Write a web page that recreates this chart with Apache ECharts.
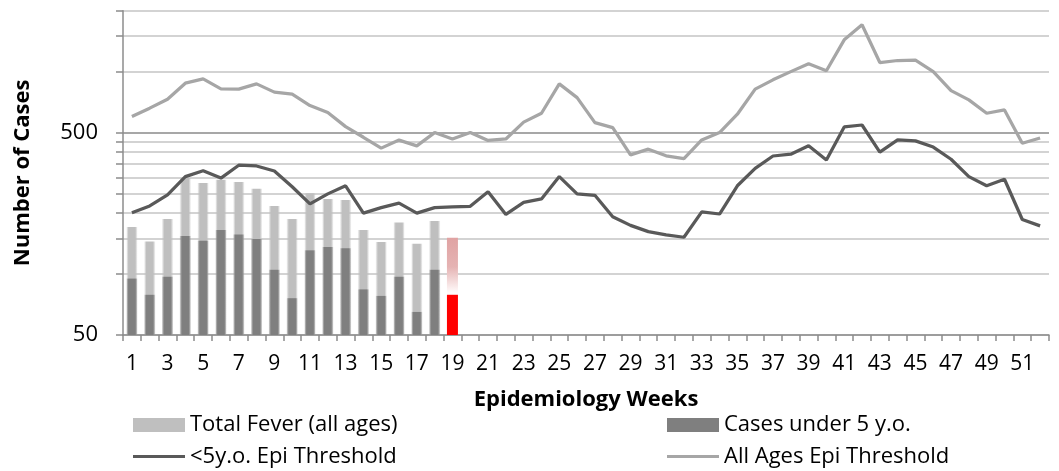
<!DOCTYPE html>
<html>
<head>
<meta charset="utf-8">
<style>
html,body{margin:0;padding:0;background:#fff;}
#chart{width:1059px;height:471px;}
</style>
<script src="https://cdn.jsdelivr.net/npm/echarts@6/dist/echarts.min.js"></script>
</head>
<body>
<div id="chart"></div>
<script>
const weeks = ['1','2','3','4','5','6','7','8','9','10','11','12','13','14','15','16','17','18','19','20','21','22','23','24','25','26','27','28','29','30','31','32','33','34','35','36','37','38','39','40','41','42','43','44','45','46','47','48','49','50','51','52'];
const totalFever = [171,145,187,298,282,292,285,264,217,187,251,235,232,165,144,180,141,183,151];
const under5 = [95,79,97,154,146,165,157,149,105,76,131,136,134,84,78,97,65,105,79];
const under5Threshold = [201,217,246,303,324,298,345,342,323,270,222,249,273,200,213,224,200,213,215,216,255,197,226,235,303,249,245,192,174,162,156,152,203,198,273,333,383,391,430,366,533,545,400,460,455,424,369,303,273,294,186,173];
const allAgesThreshold = [600,660,731,877,921,822,820,870,792,774,680,628,535,474,419,459,430,500,465,500,457,465,563,623,870,744,560,529,388,414,384,372,460,500,616,820,911,1000,1093,1010,1436,1704,1109,1135,1140,1001,806,725,623,647,443,470];
const yTicks = [50,100,150,200,250,300,350,400,450,500,1000,1500,2000];
const yLabels = [50,500];
const yMin = 50, yMax = 2000;
const currentWeekIndex = 18;

// log scale helper (axis base = 50)
const tr = v => (v == null ? null : Math.log10(v / yMin));
const inv = t => Math.round(yMin * Math.pow(10, t));

function hGrad(c, ca) {
  return new echarts.graphic.LinearGradient(0, 0, 1, 0, [
    {offset: 0, color: ca}, {offset: 0.2, color: c}, {offset: 0.8, color: c}, {offset: 1, color: ca}
  ]);
}
const lightCol = hGrad('#BFBFBF', 'rgba(191,191,191,0.15)');
const darkCol = hGrad('#7F7F7F', 'rgba(127,127,127,0.15)');
const pinkCol = new echarts.graphic.LinearGradient(0, 0, 0, 1, [
  {offset: 0, color: '#E0A3A3'}, {offset: 0.3, color: '#E5B3B3'}, {offset: 0.56, color: '#FFFAFA'}, {offset: 1, color: '#FFFFFF'}
]);

const totalData = totalFever.map((v, i) => i === currentWeekIndex ? {value: tr(v), itemStyle: {color: pinkCol}} : tr(v));
const under5Data = under5.map((v, i) => i === currentWeekIndex ? {value: tr(v), itemStyle: {color: '#FF0000'}} : tr(v));

const gridColors = yTicks.map(v => v === 500 ? '#8A8A8A' : '#C4C4C4');
const font = "'Open Sans', 'Liberation Sans', sans-serif";

const chart = echarts.init(document.getElementById('chart'), null, {renderer: 'canvas'});
const legendText = {fontFamily: font, fontSize: 22, lineHeight: 24, color: '#000'};
chart.setOption({
  animation: false,
  grid: {left: 123, right: 10, top: 10.7, bottom: 136, containLabel: false},
  legend: [
    {left: 133, top: 413, padding: 0, itemWidth: 52, itemHeight: 14, textStyle: legendText,
     data: [{name: 'Total Fever (all ages)', icon: 'rect', itemStyle: {color: '#BFBFBF'}}]},
    {left: 667, top: 413, padding: 0, itemWidth: 52, itemHeight: 14, textStyle: legendText,
     data: [{name: 'Cases under 5 y.o.', icon: 'rect', itemStyle: {color: '#7F7F7F'}}]},
    {left: 133, top: 444.5, padding: 0, itemWidth: 52, itemHeight: 3, textStyle: legendText,
     data: [{name: '<5y.o. Epi Threshold', icon: 'rect', itemStyle: {color: '#595959'}}]},
    {left: 667, top: 444.5, padding: 0, itemWidth: 52, itemHeight: 3, textStyle: legendText,
     data: [{name: 'All Ages Epi Threshold', icon: 'rect', itemStyle: {color: '#A6A6A6'}}]}
  ],
  xAxis: {
    type: 'category', data: weeks, boundaryGap: true,
    name: 'Epidemiology Weeks', nameLocation: 'middle', nameGap: 54,
    nameTextStyle: {fontFamily: font, fontSize: 22, fontWeight: 'bold', color: '#000'},
    axisLine: {lineStyle: {color: '#8C8C8C', width: 1.5}},
    axisTick: {show: true, interval: 0, length: 6, alignWithLabel: false, lineStyle: {color: '#8C8C8C', width: 1.5}},
    axisLabel: {interval: 1, margin: 19, fontFamily: font, fontSize: 21, color: '#000'},
    splitLine: {show: false}
  },
  yAxis: {
    type: 'value', min: tr(yMin), max: tr(yMax),
    name: 'Number of Cases', nameLocation: 'middle', nameRotate: 90, nameGap: 89,
    nameTextStyle: {fontFamily: font, fontSize: 22, fontWeight: 'bold', color: '#000'},
    axisLine: {show: true, lineStyle: {color: '#8C8C8C', width: 1.5}},
    axisTick: {show: true, inside: false, length: 7, customValues: yTicks.map(tr), lineStyle: {color: '#8C8C8C', width: 1.5}},
    axisLabel: {customValues: yLabels.map(tr), margin: 25, fontFamily: font, fontSize: 22, color: '#000',
      formatter: v => String(inv(v))},
    splitLine: {show: true, lineStyle: {color: gridColors, width: 1.5}}
  },
  series: [
    {name: 'Total Fever (all ages)', type: 'bar', data: totalData, barWidth: 11, barGap: '-100%',
     itemStyle: {color: lightCol}, z: 2},
    {name: 'Cases under 5 y.o.', type: 'bar', data: under5Data, barWidth: 11, barGap: '-100%',
     itemStyle: {color: darkCol}, z: 3},
    {name: '<5y.o. Epi Threshold', type: 'line', data: under5Threshold.map(tr), symbol: 'none',
     lineStyle: {color: '#595959', width: 3.25}, itemStyle: {color: '#595959'}, z: 4},
    {name: 'All Ages Epi Threshold', type: 'line', data: allAgesThreshold.map(tr), symbol: 'none',
     lineStyle: {color: '#A6A6A6', width: 3.25}, itemStyle: {color: '#A6A6A6'}, z: 4}
  ]
});
</script>
</body>
</html>
